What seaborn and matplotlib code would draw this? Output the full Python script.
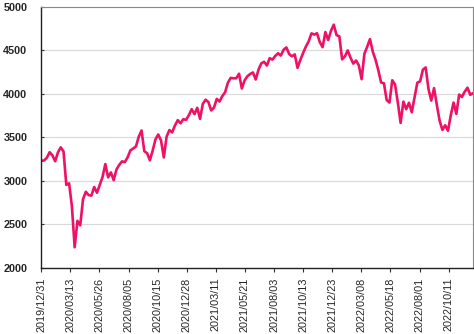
import numpy as np
import pandas as pd
import matplotlib
matplotlib.use("Agg")
import matplotlib.pyplot as plt
import seaborn as sns

# weekly index levels (2019/12/31 .. 2022/12)
values_2019 = [3231]
values_2020 = [3235, 3265, 3330, 3295, 3226, 3328, 3386, 3338, 2954, 2972,
               2711, 2237, 2541, 2489, 2790, 2875, 2837, 2831, 2930, 2864,
               2955, 3044, 3194, 3041, 3098, 3009, 3130, 3185, 3225, 3216,
               3271, 3351, 3373, 3397, 3508, 3580, 3341, 3319, 3237, 3348,
               3477, 3534, 3465, 3270, 3509, 3585, 3558, 3638, 3699, 3663,
               3709, 3703, 3756]
values_2021 = [3825, 3768, 3841, 3714, 3887, 3934, 3907, 3811, 3842, 3943,
               3913, 3975, 4020, 4129, 4185, 4180, 4181, 4233, 4063, 4156,
               4204, 4230, 4247, 4166, 4281, 4352, 4370, 4327, 4412, 4395,
               4437, 4468, 4442, 4509, 4535, 4459, 4433, 4455, 4300, 4391,
               4471, 4545, 4605, 4697, 4683, 4698, 4595, 4538, 4712, 4620,
               4726, 4797]
values_2022 = [4677, 4663, 4398, 4432, 4501, 4419, 4349, 4385, 4329, 4170,
               4463, 4543, 4631, 4488, 4393, 4272, 4132, 4123, 3930, 3901,
               4158, 4109, 3901, 3667, 3912, 3825, 3899, 3790, 3962, 4130,
               4145, 4280, 4305, 4058, 3924, 4067, 3873, 3693, 3586, 3640,
               3577, 3753, 3901, 3771, 3993, 3965, 4026, 4072, 3990, 4010]

tick_labels = ["2019/12/31", "2020/03/13", "2020/05/26", "2020/08/05",
               "2020/10/15", "2020/12/28", "2021/03/11", "2021/05/21",
               "2021/08/03", "2021/10/13", "2021/12/23", "2022/03/08",
               "2022/05/18", "2022/08/01", "2022/10/11"]
tick_step = 50          # trading days between labels
n_days = 743            # trading days shown

values = values_2019 + values_2020 + values_2021 + values_2022
df = pd.DataFrame({
    "day": np.linspace(0, n_days - 1, len(values)),
    "close": values,
})

sns.set_style("white")
plt.rcParams["font.family"] = ["Liberation Sans", "DejaVu Sans"]

fig = plt.figure(figsize=(4.74, 3.34), dpi=100)
ax = fig.add_axes([0.087, 0.198, 0.911, 0.781])

sns.lineplot(data=df, x="day", y="close", color="#EE1166", linewidth=1.9, ax=ax)

ax.set_xlim(0, n_days - 1)
ax.set_ylim(2000, 5000)
ax.set_yticks(range(2000, 5001, 500))
ax.set_xticks(np.arange(len(tick_labels)) * tick_step)
ax.set_xticklabels(tick_labels, rotation=90, fontsize=7.8)
for lbl in ax.get_yticklabels():
    lbl.set_fontweight("bold")
ax.tick_params(axis="y", labelsize=7.8, length=2, width=0.8, direction="in",
               left=True, color="#333333", pad=10)
ax.tick_params(axis="x", length=3, width=0.8, color="#333333", bottom=True, pad=4)
ax.yaxis.grid(True, color="#D9D9D9", linewidth=0.8)
ax.set_axisbelow(True)
ax.set_xlabel("")
ax.set_ylabel("")

for side in ["left", "bottom"]:
    ax.spines[side].set_color("#222222")
    ax.spines[side].set_linewidth(1.0)
for side in ["top", "right"]:
    ax.spines[side].set_color("#888888")
    ax.spines[side].set_linewidth(0.8)

fig.savefig("out.png", dpi=100)
